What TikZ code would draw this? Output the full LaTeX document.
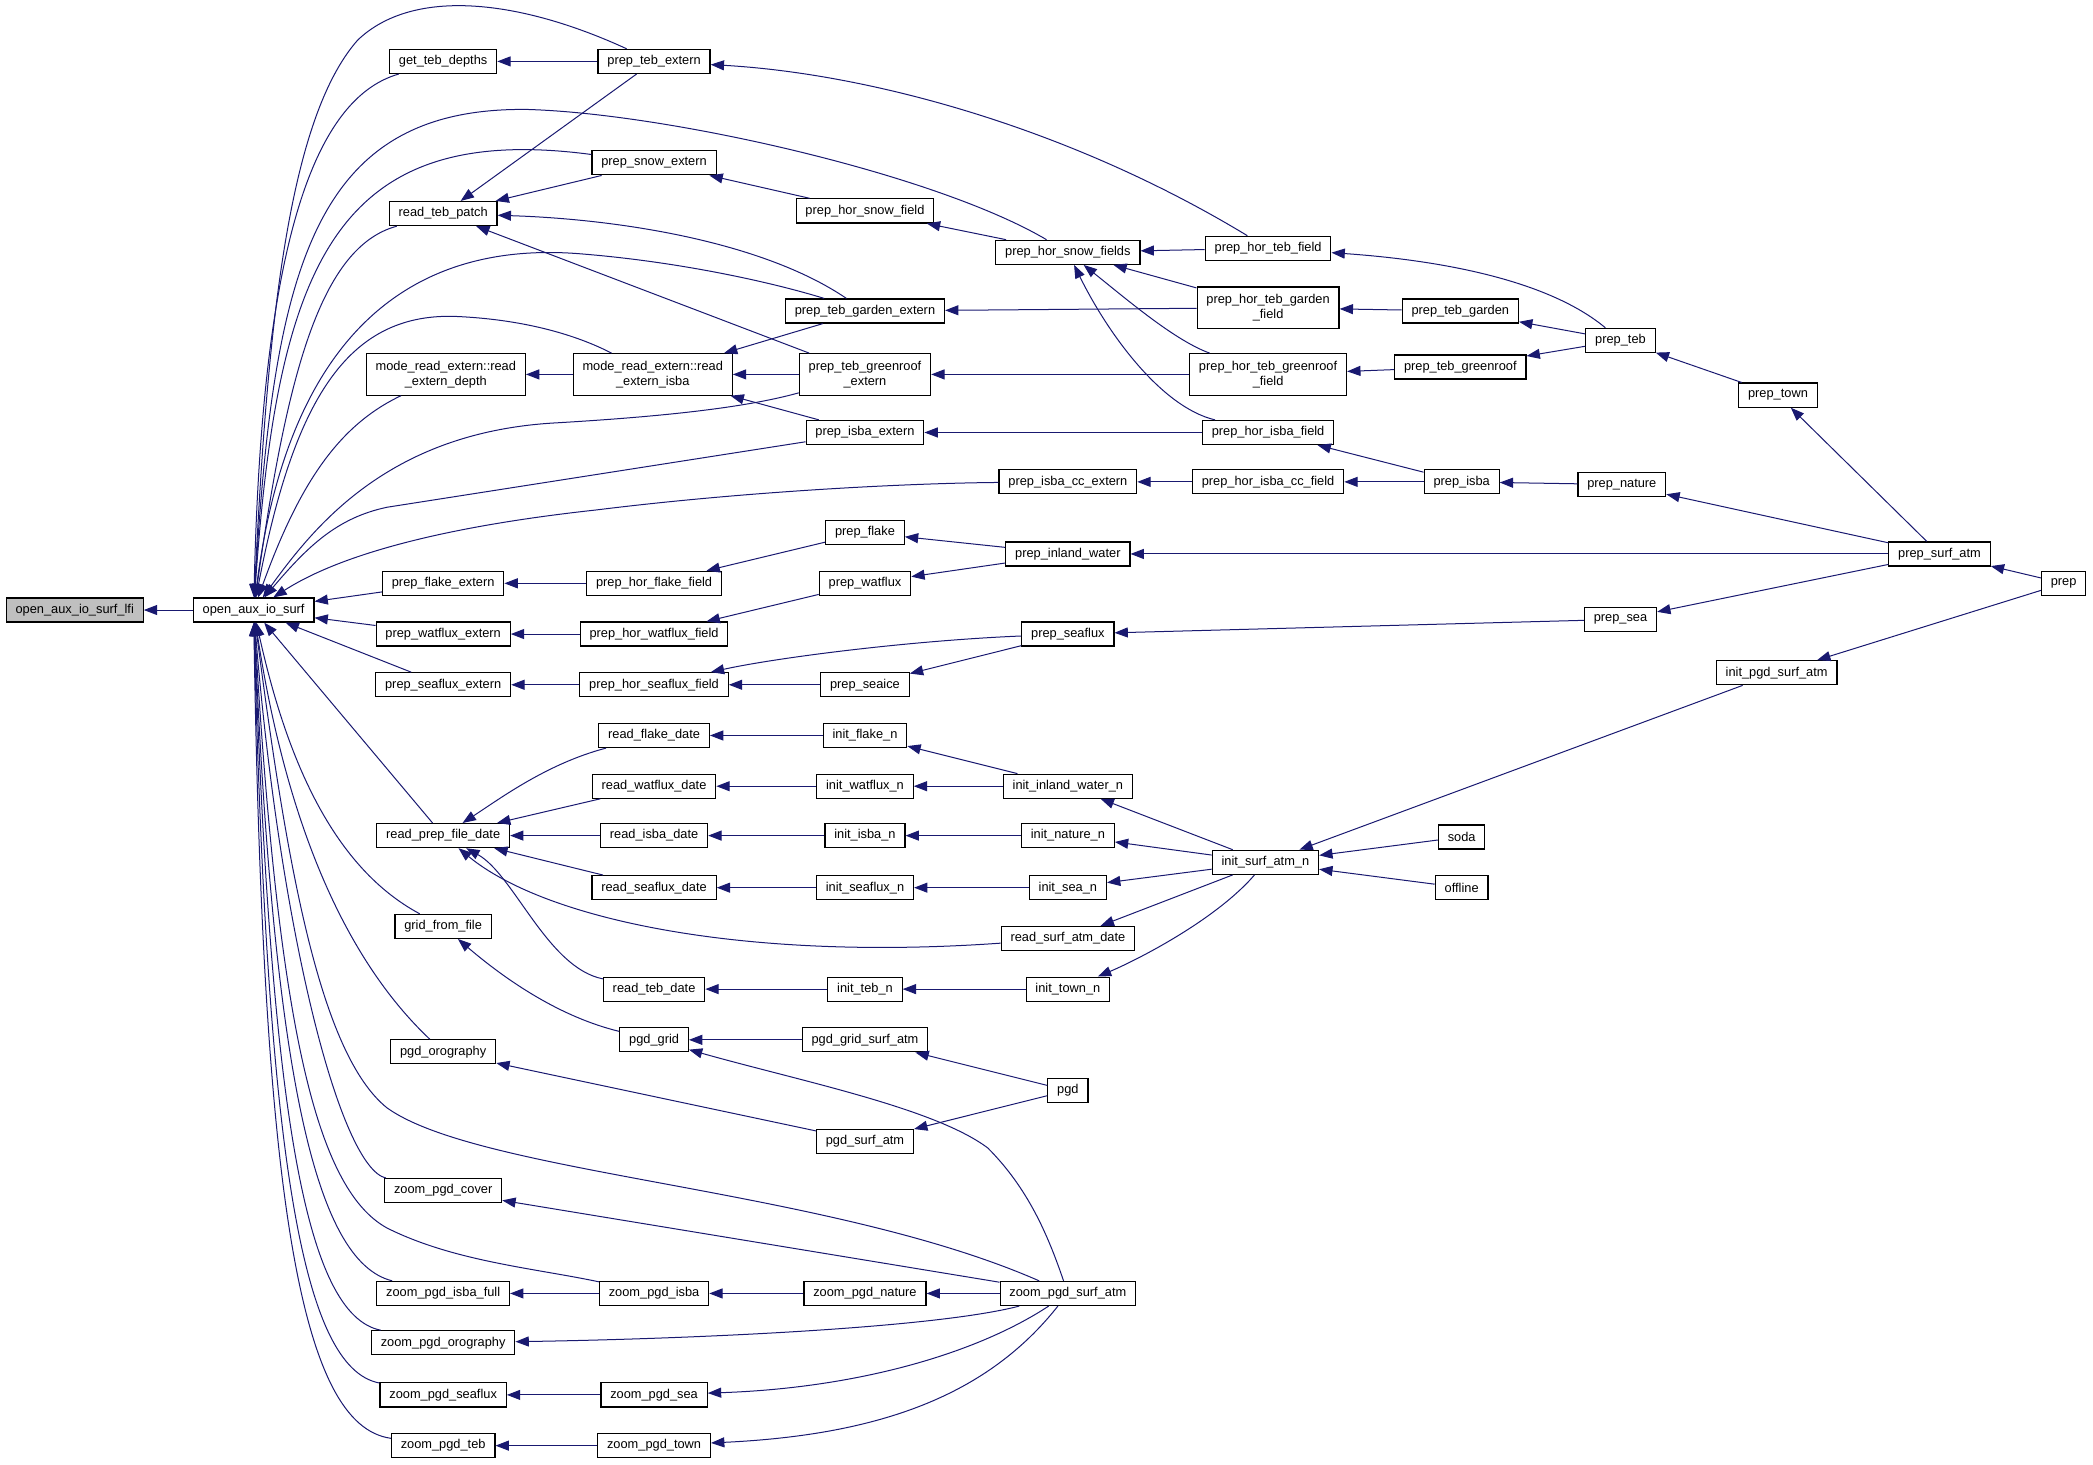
\documentclass[tikz,border=0pt]{standalone}
\usepackage{fontspec}
\setmainfont{Liberation Sans}
\usepackage{xcolor}
\usepackage{tikz}
\usetikzlibrary{arrows.meta}
\definecolor{edgeblue}{RGB}{25,25,112}
\definecolor{rootgray}{RGB}{191,191,191}

\begin{document}
\begin{tikzpicture}[x=1pt, y=-1pt, >={Triangle[length=10pt,width=7.5pt]},
    fn/.style={draw=black, line width=0.9pt, fill=white, minimum height=18pt,
      inner xsep=7pt, inner ysep=3pt, font=\fontsize{9.6}{11.5}\selectfont},
    fntwo/.style={fn, align=center, minimum height=31pt},
    call/.style={draw=edgeblue, line width=0.75pt, <-}]
            \useasboundingbox (0,0) rectangle (1568,1097.5);
            % Functions
            \node[fn, fill=rootgray] (lfi) at (56,457) {open\_aux\_io\_surf\_lfi};
            \node[fn] (oais) at (190,457) {open\_aux\_io\_surf};
            \node[fn] (gtd) at (332,46) {get\_teb\_depths};
            \node[fn] (pte) at (490,46) {prep\_teb\_extern};
            \node[fn] (rtp) at (332,160) {read\_teb\_patch};
            \node[fn] (pse) at (490,122) {prep\_snow\_extern};
            \node[fn] (phsf) at (648,158) {prep\_hor\_snow\_field};
            \node[fn] (phsfs) at (800,189) {prep\_hor\_snow\_fields};
            \node[fn] (phtf) at (950,186) {prep\_hor\_teb\_field};
            \node[fn] (ptge) at (648,233) {prep\_teb\_garden\_extern};
            \node[fntwo] (phtgf) at (950,230.5) {prep\_hor\_teb\_garden\\\_field};
            \node[fn] (ptg) at (1094,233) {prep\_teb\_garden};
            \node[fn] (pteb) at (1214,255) {prep\_teb};
            \node[fntwo] (mred) at (334,280.5) {mode\_read\_extern::read\\\_extern\_depth};
            \node[fntwo] (mrei) at (489,280.5) {mode\_read\_extern::read\\\_extern\_isba};
            \node[fntwo] (ptgre) at (648,280.5) {prep\_teb\_greenroof\\\_extern};
            \node[fntwo] (phtgrf) at (950,280.5) {prep\_hor\_teb\_greenroof\\\_field};
            \node[fn] (ptgr) at (1094,275) {prep\_teb\_greenroof};
            \node[fn] (ptown) at (1332,296) {prep\_town};
            \node[fn] (pie) at (648,324) {prep\_isba\_extern};
            \node[fn] (phif) at (950,324) {prep\_hor\_isba\_field};
            \node[fn] (picce) at (800,361) {prep\_isba\_cc\_extern};
            \node[fn] (phiccf) at (950,361) {prep\_hor\_isba\_cc\_field};
            \node[fn] (pisba) at (1095,361) {prep\_isba};
            \node[fn] (pnat) at (1215,363) {prep\_nature};
            \node[fn] (pfl) at (648,399) {prep\_flake};
            \node[fn] (pinw) at (800,415) {prep\_inland\_water};
            \node[fn] (psa) at (1453,415) {prep\_surf\_atm};
            \node[fn] (prep) at (1546,437) {prep};
            \node[fn] (pfe) at (332,437) {prep\_flake\_extern};
            \node[fn] (phff) at (490,437) {prep\_hor\_flake\_field};
            \node[fn] (pwat) at (648,437) {prep\_watflux};
            \node[fn] (pwe) at (332,475) {prep\_watflux\_extern};
            \node[fn] (phwf) at (490,475) {prep\_hor\_watflux\_field};
            \node[fn] (psfx) at (800,475) {prep\_seaflux};
            \node[fn] (psea) at (1214,464) {prep\_sea};
            \node[fn] (ipsa) at (1331,504) {init\_pgd\_surf\_atm};
            \node[fn] (psfe) at (332,513) {prep\_seaflux\_extern};
            \node[fn] (phsff) at (490,513) {prep\_hor\_seaflux\_field};
            \node[fn] (psi) at (648,513) {prep\_seaice};
            \node[fn] (rfd) at (490,551) {read\_flake\_date};
            \node[fn] (ifn) at (648,551) {init\_flake\_n};
            \node[fn] (rwd) at (490,589) {read\_watflux\_date};
            \node[fn] (iwn) at (648,589) {init\_watflux\_n};
            \node[fn] (iiwn) at (800,589) {init\_inland\_water\_n};
            \node[fn] (rpfd) at (332,626) {read\_prep\_file\_date};
            \node[fn] (rid) at (490,626) {read\_isba\_date};
            \node[fn] (iin) at (648,626) {init\_isba\_n};
            \node[fn] (inatn) at (800,626) {init\_nature\_n};
            \node[fn] (isan) at (948,646) {init\_surf\_atm\_n};
            \node[fn] (soda) at (1095,627) {soda};
            \node[fn] (offl) at (1095,665) {offline};
            \node[fn] (rsd) at (490,665) {read\_seaflux\_date};
            \node[fn] (isfn) at (648,665) {init\_seaflux\_n};
            \node[fn] (isean) at (800,665) {init\_sea\_n};
            \node[fn] (rsad) at (800,703) {read\_surf\_atm\_date};
            \node[fn] (gff) at (332,694) {grid\_from\_file};
            \node[fn] (rtd) at (490,741) {read\_teb\_date};
            \node[fn] (itebn) at (648,741) {init\_teb\_n};
            \node[fn] (itown) at (800,741) {init\_town\_n};
            \node[fn] (porog) at (332,788) {pgd\_orography};
            \node[fn] (pgrid) at (490,779) {pgd\_grid};
            \node[fn] (pgsa) at (648,779) {pgd\_grid\_surf\_atm};
            \node[fn] (pgd) at (800,817) {pgd};
            \node[fn] (psatm) at (648,855) {pgd\_surf\_atm};
            \node[fn] (zpc) at (332,892) {zoom\_pgd\_cover};
            \node[fn] (zpif) at (332,969) {zoom\_pgd\_isba\_full};
            \node[fn] (zpi) at (490,969) {zoom\_pgd\_isba};
            \node[fn] (zpn) at (648,969) {zoom\_pgd\_nature};
            \node[fn] (zpsa) at (800,969) {zoom\_pgd\_surf\_atm};
            \node[fn] (zpo) at (332,1006) {zoom\_pgd\_orography};
            \node[fn] (zpsf) at (332,1045) {zoom\_pgd\_seaflux};
            \node[fn] (zps) at (490,1045) {zoom\_pgd\_sea};
            \node[fn] (zpteb) at (332,1083) {zoom\_pgd\_teb};
            \node[fn] (zpt) at (490,1083) {zoom\_pgd\_town};
            % Callers of open_aux_io_surf
            \draw[call] (lfi) -- (oais);
            \draw[call] (oais) .. controls (200,250) and (215,90) .. (268,30) .. controls (310,-10) and (390,0) .. (pte);
            \draw[call] (oais) .. controls (196,200) and (230,75) .. (gtd);
            \draw[call] (oais) .. controls (205,200) and (235,80) .. (395,82) .. controls (500,85) and (700,130) .. (phsfs);
            \draw[call] (oais) .. controls (208,200) and (250,90) .. (pse);
            \draw[call] (oais) .. controls (215,280) and (240,185) .. (rtp);
            \draw[call] (oais) .. controls (215,260) and (300,180) .. (433,190) .. controls (510,196) and (580,212) .. (ptge);
            \draw[call] (oais) .. controls (220,300) and (260,235) .. (340,237) .. controls (390,239) and (430,250) .. (mrei);
            \draw[call] (oais) .. controls (225,360) and (255,318) .. (mred);
            \draw[call] (oais) .. controls (235,395) and (290,325) .. (413,317) .. controls (500,312) and (560,305) .. (ptgre);
            \draw[call] (oais) .. controls (230,410) and (252,388) .. (290,380) -- (pie);
            \draw[call] (oais) .. controls (240,425) and (300,398) .. (447,382) .. controls (560,368) and (680,362) .. (picce);
            \draw[call] (oais) -- (pfe);
            \draw[call] (oais) -- (pwe);
            \draw[call] (oais) -- (psfe);
            \draw[call] (oais) -- (rpfd);
            \draw[call] (oais) .. controls (215,570) and (250,650) .. (gff);
            \draw[call] (oais) .. controls (215,620) and (260,720) .. (porog);
            \draw[call] (oais) .. controls (215,650) and (240,790) .. (290,830) .. controls (360,880) and (620,890) .. (zpsa);
            \draw[call] (oais) .. controls (210,700) and (255,875) .. (zpc);
            \draw[call] (oais) .. controls (208,760) and (235,890) .. (290,920) .. controls (340,945) and (400,950) .. (zpi);
            \draw[call] (oais) .. controls (205,800) and (235,945) .. (zpif);
            \draw[call] (oais) .. controls (203,830) and (228,985) .. (zpo);
            \draw[call] (oais) .. controls (200,860) and (225,1025) .. (zpsf);
            \draw[call] (oais) .. controls (197,900) and (225,1068) .. (zpteb);
            % prep branch
            \draw[call] (gtd) -- (pte);
            \draw[call] (pte) .. controls (650,55) and (800,95) .. (phtf);
            \draw[call] (rtp) -- (pte);
            \draw[call] (rtp) -- (pse);
            \draw[call] (rtp) .. controls (460,164) and (570,180) .. (ptge);
            \draw[call] (rtp) -- (ptgre);
            \draw[call] (pse) -- (phsf);
            \draw[call] (phsf) -- (phsfs);
            \draw[call] (phsfs) -- (phtf);
            \draw[call] (phsfs) -- (phtgf);
            \draw[call] (phsfs) .. controls (845,225) and (880,255) .. (phtgrf);
            \draw[call] (phsfs) .. controls (830,250) and (870,305) .. (phif);
            \draw[call] (ptge) -- (phtgf);
            \draw[call] (phtgf) -- (ptg);
            \draw[call] (ptg) -- (pteb);
            \draw[call] (ptgr) -- (pteb);
            \draw[call] (phtf) .. controls (1080,195) and (1160,210) .. (pteb);
            \draw[call] (pteb) -- (ptown);
            \draw[call] (ptown) -- (psa);
            \draw[call] (mrei) -- (ptge);
            \draw[call] (mrei) -- (ptgre);
            \draw[call] (mrei) -- (pie);
            \draw[call] (mred) -- (mrei);
            \draw[call] (ptgre) -- (phtgrf);
            \draw[call] (phtgrf) -- (ptgr);
            \draw[call] (pie) -- (phif);
            \draw[call] (phif) -- (pisba);
            \draw[call] (picce) -- (phiccf);
            \draw[call] (phiccf) -- (pisba);
            \draw[call] (pisba) -- (pnat);
            \draw[call] (pnat) -- (psa);
            \draw[call] (pfl) -- (pinw);
            \draw[call] (pwat) -- (pinw);
            \draw[call] (pinw) -- (psa);
            \draw[call] (psa) -- (prep);
            \draw[call] (ipsa) -- (prep);
            \draw[call] (phff) -- (pfl);
            \draw[call] (pfe) -- (phff);
            \draw[call] (phwf) -- (pwat);
            \draw[call] (pwe) -- (phwf);
            \draw[call] (psfx) -- (psea);
            \draw[call] (psea) -- (psa);
            \draw[call] (phsff) .. controls (580,493) and (680,480) .. (psfx);
            \draw[call] (psi) -- (psfx);
            \draw[call] (phsff) -- (psi);
            \draw[call] (psfe) -- (phsff);
            % init branch
            \draw[call] (isan) -- (ipsa);
            \draw[call] (rfd) -- (ifn);
            \draw[call] (ifn) -- (iiwn);
            \draw[call] (iwn) -- (iiwn);
            \draw[call] (iiwn) -- (isan);
            \draw[call] (rwd) -- (iwn);
            \draw[call] (rpfd) .. controls (375,598) and (410,572) .. (rfd);
            \draw[call] (rpfd) -- (rwd);
            \draw[call] (rpfd) -- (rid);
            \draw[call] (rpfd) -- (rsd);
            \draw[call] (rpfd) .. controls (410,690) and (560,720) .. (rsad);
            \draw[call] (rpfd) .. controls (385,655) and (410,725) .. (rtd);
            \draw[call] (rid) -- (iin);
            \draw[call] (iin) -- (inatn);
            \draw[call] (inatn) -- (isan);
            \draw[call] (isan) -- (soda);
            \draw[call] (isan) -- (offl);
            \draw[call] (rsd) -- (isfn);
            \draw[call] (isfn) -- (isean);
            \draw[call] (isean) -- (isan);
            \draw[call] (rsad) -- (isan);
            \draw[call] (itown) .. controls (850,720) and (910,690) .. (isan);
            \draw[call] (rtd) -- (itebn);
            \draw[call] (itebn) -- (itown);
            % pgd branch
            \draw[call] (gff) .. controls (380,735) and (420,762) .. (pgrid);
            \draw[call] (pgrid) -- (pgsa);
            \draw[call] (pgsa) -- (pgd);
            \draw[call] (porog) -- (psatm);
            \draw[call] (psatm) -- (pgd);
            \draw[call] (pgrid) .. controls (600,810) and (700,830) .. (740,860) .. controls (770,890) and (785,925) .. (zpsa);
            \draw[call] (zpc) -- (zpsa);
            \draw[call] (zpif) -- (zpi);
            \draw[call] (zpi) -- (zpn);
            \draw[call] (zpn) -- (zpsa);
            \draw[call] (zpo) .. controls (520,1003) and (700,995) .. (zpsa);
            \draw[call] (zpsf) -- (zps);
            \draw[call] (zps) .. controls (640,1040) and (730,1015) .. (zpsa);
            \draw[call] (zpteb) -- (zpt);
            \draw[call] (zpt) .. controls (660,1075) and (740,1045) .. (zpsa);
        \end{tikzpicture}
\end{document}
